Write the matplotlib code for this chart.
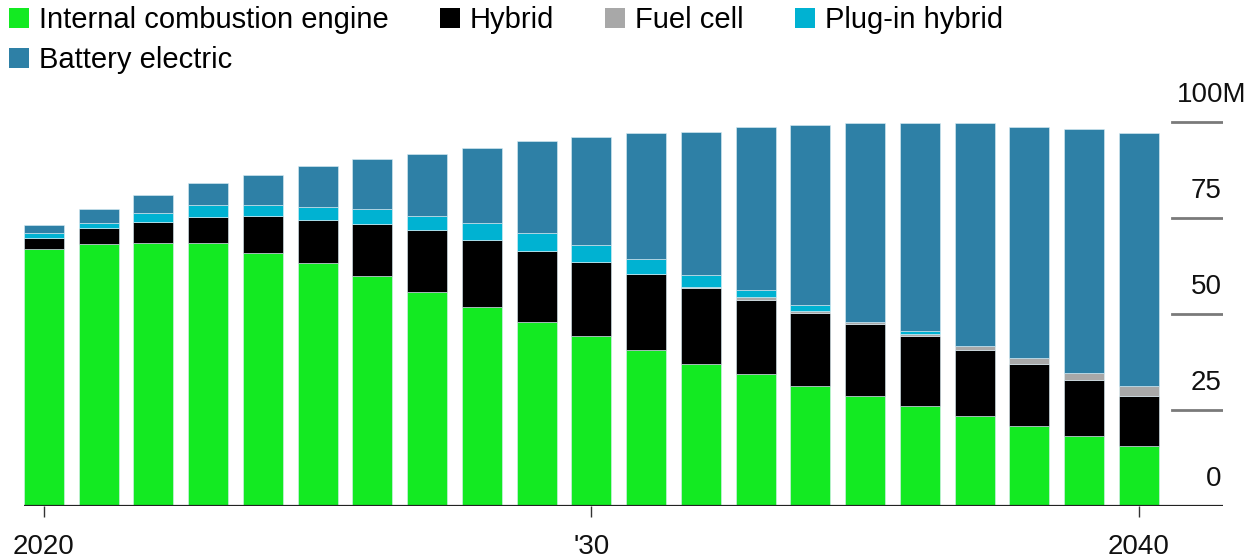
import numpy as np
import matplotlib
matplotlib.use("Agg")
import matplotlib.pyplot as plt
from matplotlib.patches import Patch
import matplotlib.transforms as mtransforms

plt.rcParams["font.family"] = ["Liberation Sans", "DejaVu Sans"]

years = list(range(2020, 2041))

ice = [66.9, 68.3, 68.4, 68.4, 65.8, 63.2, 60.0, 55.8, 51.7, 48.0, 44.3,
       40.7, 37.0, 34.4, 31.3, 28.6, 26.0, 23.4, 20.8, 18.1, 15.6]
hybrid = [2.8, 4.2, 5.6, 6.9, 9.7, 11.3, 13.5, 16.1, 17.6, 18.5, 19.2,
          19.6, 19.8, 19.2, 19.0, 18.7, 18.4, 17.2, 16.2, 14.7, 13.0]
fuel_cell = [0, 0, 0, 0, 0, 0, 0, 0, 0, 0, 0,
             0, 0.3, 0.8, 0.5, 0.7, 0.4, 1.1, 1.45, 1.9, 2.65]
plugin = [1.5, 1.3, 2.2, 3.1, 2.9, 3.3, 3.8, 3.7, 4.3, 4.5, 4.4,
          4.0, 3.1, 1.9, 1.5, 0, 0.7, 0, 0, 0, 0]
battery = [1.9, 3.5, 4.8, 5.6, 7.7, 10.8, 13.0, 16.2, 19.7, 24.0, 28.1,
           32.8, 37.3, 42.3, 46.9, 51.7, 54.2, 58.0, 60.15, 63.4, 65.85]

series_names = ["Internal combustion engine", "Hybrid", "Fuel cell",
                "Plug-in hybrid", "Battery electric"]
series_colors = ["#13ea22", "#000000", "#a8a8a8", "#00b2d2", "#2e80a6"]

y_ticks = [0, 25, 50, 75, 100]
y_tick_labels = ["0", "25", "50", "75", "100M"]
x_ticks = [2020, 2030, 2040]
x_tick_labels = ["2020", "'30", "2040"]

fig = plt.figure(figsize=(12.49, 5.58), dpi=100)
ax = fig.add_axes([24 / 1249, 52 / 558, 1199 / 1249, 385.9 / 558])

bottom = np.zeros(len(years))
for vals, color in zip([ice, hybrid, fuel_cell, plugin, battery], series_colors):
    ax.bar(years, vals, bottom=bottom, width=0.73, color=color,
           edgecolor="#dbeef5", linewidth=0.4, zorder=2)
    bottom += np.array(vals)

ax.set_xlim(2019.635, 2041.535)
ax.set_ylim(0, 100.5)

for s in ax.spines.values():
    s.set_visible(False)
ax.axhline(0, color="#222222", lw=1.6, zorder=3)

# right side grid ticks and labels, the "M" hangs past the tick line
base = mtransforms.blended_transform_factory(ax.transAxes, ax.transData)
for v, lab in zip(y_ticks, y_tick_labels):
    if v > 0:
        ax.axhline(v, xmin=0.9575, xmax=1.0, color="#7a7a7a", lw=2, zorder=1)
    dx = 25 if lab.endswith("M") else 0
    tr = mtransforms.offset_copy(base, fig=fig, x=dx, y=27, units="dots")
    ax.text(0.999, v, lab, transform=tr, ha="right", va="center",
            fontsize=20, color="#111111")

ax.set_yticks([])
ax.set_xticks(x_ticks)
ax.set_xticklabels(x_tick_labels, fontsize=20, color="#111111")
ax.tick_params(axis="x", length=8, width=1, color="#333333", pad=12)

handles = [Patch(facecolor=c, edgecolor="none") for c in series_colors]
order = [0, 4, 1, 2, 3]
fig.legend([handles[i] for i in order], [series_names[i] for i in order],
           loc="upper left", bbox_to_anchor=(9 / 1249, 1 - 6 / 558),
           ncol=4, frameon=False, fontsize=21, handlelength=0.68,
           handleheight=0.68, handletextpad=0.35, columnspacing=1.75,
           labelspacing=0.42, borderpad=0, borderaxespad=0)

fig.savefig("out.png", dpi=100)
